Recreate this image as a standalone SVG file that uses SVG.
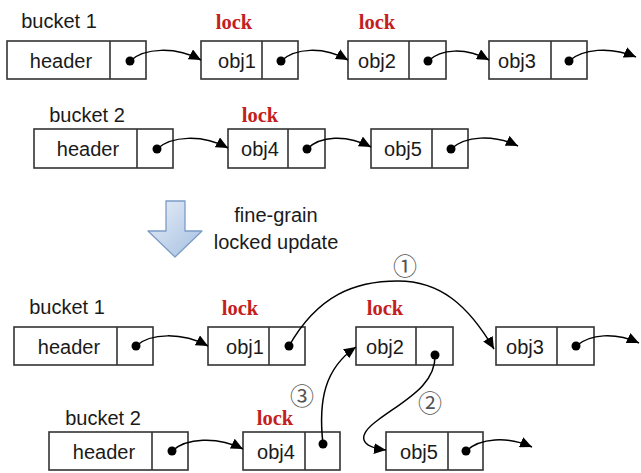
<svg xmlns="http://www.w3.org/2000/svg" width="641" height="473" viewBox="0 0 641 473">
<style>
.box{fill:#fff;stroke:#333;stroke-width:1.6}
.lbl{font-family:"Liberation Sans",Arial,sans-serif;font-size:20px;fill:#1a1a1a;text-anchor:middle}
.lock{font-family:"Liberation Serif","Times New Roman",serif;font-weight:bold;font-size:20.5px;fill:#c41e1e;text-anchor:middle}
.num{font-family:"Noto Sans CJK SC","DejaVu Sans",sans-serif;font-size:24px;fill:#555;text-anchor:middle}
.dot{fill:#000}
.edge{fill:none;stroke:#000;stroke-width:1.5;marker-end:url(#ah)}
</style>
<defs>
<marker id="ah" markerUnits="userSpaceOnUse" markerWidth="13" markerHeight="11" refX="12" refY="5.5" orient="auto">
<path d="M0,0 L12,5.5 L0,11 z" fill="#000"/>
</marker>
<linearGradient id="bg" x1="0" y1="0" x2="1" y2="1">
<stop offset="0" stop-color="#e8eff8"/>
<stop offset="1" stop-color="#a5bfe0"/>
</linearGradient>
</defs>
<rect width="641" height="473" fill="#fff"/>

<!-- labels -->
<text class="lbl" x="59" y="28">bucket 1</text>
<text class="lbl" x="87" y="122">bucket 2</text>
<text class="lbl" x="67" y="314">bucket 1</text>
<text class="lbl" x="103" y="425">bucket 2</text>
<text class="lock" x="234" y="29">lock</text>
<text class="lock" x="377" y="29">lock</text>
<text class="lock" x="260" y="122">lock</text>
<text class="lock" x="240" y="315">lock</text>
<text class="lock" x="385" y="315">lock</text>
<text class="lock" x="275" y="425">lock</text>

<!-- top bucket 1 -->
<g id="t_b1_header"><rect class="box" x="7" y="41" width="139" height="38"/><line class="box" x1="110" y1="41" x2="110" y2="79"/><text class="lbl" x="61" y="68">header</text><circle class="dot" cx="130" cy="61" r="4.5"/></g>
<g id="t_obj1"><rect class="box" x="201" y="41" width="97" height="38"/><line class="box" x1="262" y1="41" x2="262" y2="79"/><text class="lbl" x="237" y="68">obj1</text><circle class="dot" cx="281" cy="61" r="4.5"/></g>
<g id="t_obj2"><rect class="box" x="348" y="41" width="98" height="38"/><line class="box" x1="409" y1="41" x2="409" y2="79"/><text class="lbl" x="377" y="68">obj2</text><circle class="dot" cx="428" cy="61" r="4.5"/></g>
<g id="t_obj3"><rect class="box" x="489" y="41" width="98" height="38"/><line class="box" x1="551" y1="41" x2="551" y2="79"/><text class="lbl" x="517" y="68">obj3</text><circle class="dot" cx="569" cy="61" r="4.5"/></g>

<!-- top bucket 2 -->
<g id="t_b2_header"><rect class="box" x="34" y="129" width="139" height="39"/><line class="box" x1="137" y1="129" x2="137" y2="168"/><text class="lbl" x="88" y="156">header</text><circle class="dot" cx="157" cy="149" r="4.5"/></g>
<g id="t_obj4"><rect class="box" x="228" y="129" width="97" height="39"/><line class="box" x1="288" y1="129" x2="288" y2="168"/><text class="lbl" x="260" y="156">obj4</text><circle class="dot" cx="307" cy="149" r="4.5"/></g>
<g id="t_obj5"><rect class="box" x="371" y="129" width="97" height="39"/><line class="box" x1="432" y1="129" x2="432" y2="168"/><text class="lbl" x="403" y="156">obj5</text><circle class="dot" cx="451" cy="149" r="4.5"/></g>

<!-- transition arrow -->
<g id="update">
<polygon points="166,201 185,201 185,231 202,231 175,257 148,231 166,231" fill="url(#bg)" stroke="#7b9cc7" stroke-width="1.3" stroke-linejoin="round"/>
<text class="lbl" x="276" y="222">fine-grain</text>
<text class="lbl" x="276" y="249">locked update</text>
</g>

<!-- lower bucket 1 -->
<g id="b_b1_header"><rect class="box" x="14" y="327" width="139" height="38"/><line class="box" x1="117" y1="327" x2="117" y2="365"/><text class="lbl" x="69" y="354">header</text><circle class="dot" cx="136" cy="346" r="4.5"/></g>
<g id="b_obj1"><rect class="box" x="208" y="327" width="97" height="38"/><line class="box" x1="269" y1="327" x2="269" y2="365"/><text class="lbl" x="245" y="354">obj1</text><circle class="dot" cx="289" cy="346" r="4.5"/></g>
<g id="b_obj2"><rect class="box" x="356" y="327" width="97" height="38"/><line class="box" x1="416" y1="327" x2="416" y2="365"/><text class="lbl" x="385" y="354">obj2</text><circle class="dot" cx="435" cy="355" r="4.5"/></g>
<g id="b_obj3"><rect class="box" x="496" y="327" width="98" height="38"/><line class="box" x1="557" y1="327" x2="557" y2="365"/><text class="lbl" x="525" y="354">obj3</text><circle class="dot" cx="576" cy="346" r="4.5"/></g>

<!-- lower bucket 2 -->
<g id="b_b2_header"><rect class="box" x="49" y="432" width="139" height="38"/><line class="box" x1="152" y1="432" x2="152" y2="470"/><text class="lbl" x="104" y="459">header</text><circle class="dot" cx="172" cy="451" r="4.5"/></g>
<g id="b_obj4"><rect class="box" x="243" y="432" width="97" height="38"/><line class="box" x1="305" y1="432" x2="305" y2="470"/><text class="lbl" x="276" y="459">obj4</text><circle class="dot" cx="323" cy="444" r="4.5"/></g>
<g id="b_obj5"><rect class="box" x="386" y="432" width="97" height="38"/><line class="box" x1="448" y1="432" x2="448" y2="470"/><text class="lbl" x="419" y="459">obj5</text><circle class="dot" cx="466" cy="451" r="4.5"/></g>

<!-- step numbers -->
<text class="num" x="405" y="275">①</text>
<text class="num" x="430" y="412">②</text>
<text class="num" x="302" y="405">③</text>

<g id="connectors">
<path class="edge" d="M130,61 C144,48 175,46 201,60"/>
<path class="edge" d="M281,61 C295,48 323,46 348,60"/>
<path class="edge" d="M428,61 C441,49 465,47 489,60"/>
<path class="edge" d="M569,61 C582,49 610,46 636,57"/>
<path class="edge" d="M157,149 C171,136 202,134 228,148"/>
<path class="edge" d="M307,149 C320,136 346,134 371,147"/>
<path class="edge" d="M451,149 C465,136 493,134 518,146"/>
<path class="edge" d="M136,346 C150,333 182,332 208,346"/>
<path class="edge" d="M289,346 C318,295 355,281 398,281 C440,281 468,305 494,349"/>
<path class="edge" d="M576,346 C590,334 615,332 639,343"/>
<path class="edge" d="M172,451 C186,438 217,436 243,449"/>
<path class="edge" d="M466,451 C480,438 507,436 532,447"/>
<path class="edge" d="M323,444 C318,400 325,368 356,347"/>
<path class="edge" d="M435,355 C436,385 405,400 378,420 C356,436 360,447 386,450"/>
</g>
</svg>
